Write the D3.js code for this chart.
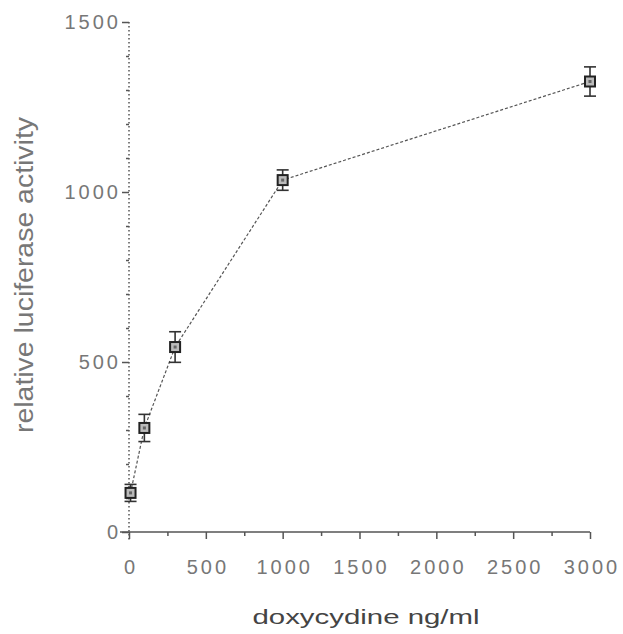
<!DOCTYPE html>
<html>
<head>
<meta charset="utf-8">
<script src="https://cdn.jsdelivr.net/npm/d3@7"></script>
<style>
  body { margin: 0; background: #fff; }
  text { font-family: "Liberation Sans", Arial, sans-serif; }
</style>
</head>
<body>
<svg id="chart"></svg>
<script>
    // data
    var doses = [10, 100, 300, 1000, 3000];
    var activity = [115, 306, 544, 1035, 1325];
    var errors = [25, 40, 45, 30, 43];
    var xTicks = [0, 500, 1000, 1500, 2000, 2500, 3000];
    var yTicks = [0, 500, 1000, 1500];

    var data = doses.map(function(d, i) {
      return {dose: d, value: activity[i], err: errors[i]};
    });

    // set the dimensions and margins of the graph
    var margin = {top: 22, right: 33, bottom: 102, left: 129},
    width = 623 - margin.left - margin.right,
    height = 634 - margin.top - margin.bottom;

    var x = d3.scaleLinear().domain([0, 3000]).range([0, width]);
    var y = d3.scaleLinear().domain([0, 1500]).range([height, 0]);

    var svg = d3.select("#chart")
      .attr("width", 623)
      .attr("height", 634)
      .append("g")
      .attr("transform", "translate(" + margin.left + "," + margin.top + ")");

    var axisColor = "#555";
    var textColor = "#777";

    // minor ticks
    svg.append("g")
      .attr("transform", "translate(0," + height + ")")
      .call(d3.axisBottom(x).tickValues(d3.range(250, 3000, 500)).tickSize(4).tickFormat(""))
      .call(function(g) { g.select(".domain").remove(); })
      .selectAll("line").attr("stroke", axisColor).attr("stroke-width", 1.5);

    svg.append("g")
      .call(d3.axisLeft(y).tickValues(d3.range(0, 1500, 100).filter(function(v) { return v % 500; })).tickSize(3).tickFormat(""))
      .call(function(g) { g.select(".domain").remove(); })
      .selectAll("line").attr("stroke", axisColor).attr("stroke-width", 1.5);

    // x axis
    var gx = svg.append("g")
      .attr("transform", "translate(0," + height + ")")
      .call(d3.axisBottom(x).tickValues(xTicks).tickSize(7).tickPadding(21).tickFormat(d3.format("d")));
    gx.select(".domain").attr("d", "M-9,0H" + width).attr("stroke", axisColor).attr("stroke-width", 1.5);
    gx.selectAll("line").attr("stroke", axisColor).attr("stroke-width", 1.5);
    gx.selectAll("text").attr("fill", textColor).style("font-size", "20px")
      .style("letter-spacing", "3px").attr("dx", "1.5px");

    // y axis (dotted)
    var gy = svg.append("g")
      .call(d3.axisLeft(y).tickValues(yTicks).tickSize(7).tickPadding(1).tickFormat(d3.format("d")));
    gy.select(".domain").attr("d", "M0,0V" + (height + 8))
      .attr("stroke", axisColor).attr("stroke-width", 1.5).attr("stroke-dasharray", "1.5,2.5");
    gy.selectAll("line").attr("stroke", axisColor).attr("stroke-width", 1.5);
    gy.selectAll("text").attr("fill", textColor).style("font-size", "20px")
      .style("letter-spacing", "3px");

    // connecting line
    var valueline = d3.line()
      .x(function(d) { return x(d.dose); })
      .y(function(d) { return y(d.value); });

    svg.append("path")
      .datum(data)
      .attr("fill", "none")
      .attr("stroke", "#555")
      .attr("stroke-width", 1.2)
      .attr("stroke-dasharray", "3,2")
      .attr("d", valueline);

    // error bars
    var eb = svg.selectAll(".err").data(data).enter().append("g").attr("class", "err")
      .attr("stroke", "#333").attr("stroke-width", 1.6);
    eb.append("line")
      .attr("x1", function(d) { return x(d.dose); })
      .attr("x2", function(d) { return x(d.dose); })
      .attr("y1", function(d) { return y(d.value + d.err); })
      .attr("y2", function(d) { return y(d.value - d.err); });
    eb.append("line")
      .attr("x1", function(d) { return x(d.dose) - 6; })
      .attr("x2", function(d) { return x(d.dose) + 6; })
      .attr("y1", function(d) { return y(d.value + d.err); })
      .attr("y2", function(d) { return y(d.value + d.err); });
    eb.append("line")
      .attr("x1", function(d) { return x(d.dose) - 6; })
      .attr("x2", function(d) { return x(d.dose) + 6; })
      .attr("y1", function(d) { return y(d.value - d.err); })
      .attr("y2", function(d) { return y(d.value - d.err); });

    // square markers
    var pts = svg.selectAll(".pt").data(data).enter().append("g").attr("class", "pt");
    pts.append("rect")
      .attr("x", function(d) { return x(d.dose) - 5; })
      .attr("y", function(d) { return y(d.value) - 5; })
      .attr("width", 10).attr("height", 10)
      .attr("fill", "#bbb").attr("stroke", "#222").attr("stroke-width", 2);
    pts.append("rect")
      .attr("x", function(d) { return x(d.dose) - 1.5; })
      .attr("y", function(d) { return y(d.value) - 1.5; })
      .attr("width", 3).attr("height", 3)
      .attr("fill", "#666");

    // axis labels
    svg.append("text")
      .attr("x", 237)
      .attr("y", height + 92)
      .attr("text-anchor", "middle")
      .attr("fill", "#444")
      .attr("textLength", 227)
      .attr("lengthAdjust", "spacingAndGlyphs")
      .style("font-size", "21px")
      .text("doxycydine ng/ml");

    svg.append("text")
      .attr("transform", "translate(" + (-96) + "," + (253) + ") rotate(-90)")
      .attr("text-anchor", "middle")
      .attr("fill", textColor)
      .attr("textLength", 316)
      .attr("lengthAdjust", "spacingAndGlyphs")
      .style("font-size", "25px")
      .text("relative luciferase activity");
</script>
</body>
</html>
